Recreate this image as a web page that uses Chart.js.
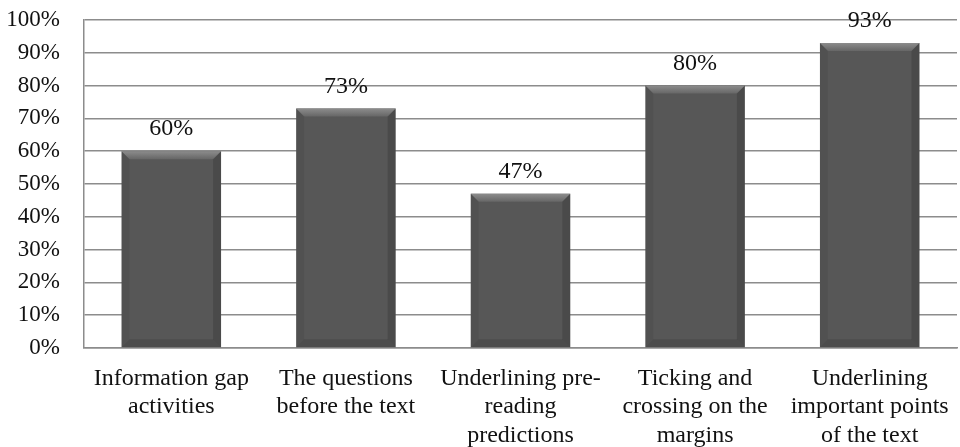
<!DOCTYPE html>
<html>
<head>
<meta charset="utf-8">
<script src="https://cdn.jsdelivr.net/npm/chart.js@4.4.1/dist/chart.umd.min.js"></script>
<style>
  html, body { margin: 0; padding: 0; background: #fff; }
  #wrap { width: 960px; height: 447px; }
</style>
</head>
<body>
<div id="wrap"><canvas id="bars"></canvas></div>
<script>
var categories = [
  ["Information gap", "activities"],
  ["The questions", "before the text"],
  ["Underlining pre-", "reading", "predictions"],
  ["Ticking and", "crossing on the", "margins"],
  ["Underlining", "important points", "of the text"]
];
var percents = [60, 73, 47, 80, 93];
var yTicks = [0, 10, 20, 30, 40, 50, 60, 70, 80, 90, 100];

var serif = "'Liberation Serif', 'DejaVu Serif', serif";

// value labels above each bar
var valueLabels = {
  id: 'valueLabels',
  afterDatasetsDraw: function(chart) {
    var ctx = chart.ctx;
    var meta = chart.getDatasetMeta(0);
    ctx.save();
    ctx.font = "24px " + serif;
    ctx.fillStyle = "#111";
    ctx.textAlign = "center";
    ctx.textBaseline = "middle";
    meta.data.forEach(function(bar, i) {
      ctx.fillText(percents[i] + "%", bar.x, bar.y - 22);
    });
    ctx.restore();
  }
};

// bevel shading on each bar
var bevel = {
  id: 'bevel',
  afterDatasetDraw: function(chart) {
    var ctx = chart.ctx;
    var meta = chart.getDatasetMeta(0);
    var b = 8;
    ctx.save();
    meta.data.forEach(function(bar) {
      var l = bar.x - bar.width / 2, r = bar.x + bar.width / 2;
      var t = bar.y, btm = bar.base;
      // top
      var g = ctx.createLinearGradient(0, t, 0, t + b);
      g.addColorStop(0, "#8c8c8c");
      g.addColorStop(1, "#666");
      ctx.fillStyle = g;
      ctx.beginPath();
      ctx.moveTo(l, t); ctx.lineTo(r, t); ctx.lineTo(r - b, t + b); ctx.lineTo(l + b, t + b);
      ctx.closePath(); ctx.fill();
      // left
      ctx.fillStyle = "rgba(0,0,0,0.06)";
      ctx.beginPath();
      ctx.moveTo(l, t); ctx.lineTo(l + b, t + b); ctx.lineTo(l + b, btm - b); ctx.lineTo(l, btm);
      ctx.closePath(); ctx.fill();
      // right
      ctx.fillStyle = "rgba(0,0,0,0.14)";
      ctx.beginPath();
      ctx.moveTo(r, t); ctx.lineTo(r - b, t + b); ctx.lineTo(r - b, btm - b); ctx.lineTo(r, btm);
      ctx.closePath(); ctx.fill();
      // bottom
      ctx.fillStyle = "rgba(0,0,0,0.12)";
      ctx.beginPath();
      ctx.moveTo(l, btm); ctx.lineTo(l + b, btm - b); ctx.lineTo(r - b, btm - b); ctx.lineTo(r, btm);
      ctx.closePath(); ctx.fill();
    });
    ctx.restore();
  }
};

new Chart(document.getElementById("bars"), {
  type: 'bar',
  data: {
    labels: categories,
    datasets: [{
      data: percents,
      backgroundColor: "#575757",
      borderWidth: 0,
      categoryPercentage: 1.0,
      barPercentage: 0.57
    }]
  },
  options: {
    responsive: true,
    maintainAspectRatio: false,
    animation: false,
    layout: { padding: { top: 20, right: 3, left: 0, bottom: 0 } },
    plugins: { legend: { display: false }, tooltip: { enabled: false } },
    scales: {
      x: {
        grid: { display: false, drawTicks: false },
        border: { color: "#8c8c8c", width: 1.5 },
        ticks: {
          color: "#111",
          font: { family: serif, size: 24 },
          padding: 16,
          maxRotation: 0,
          autoSkip: false
        },
        afterFit: function(scale) {
          scale.height = 99;
          scale.paddingLeft = 0;
          scale.paddingRight = 0;
        }
      },
      y: {
        min: 0,
        max: 100,
        afterBuildTicks: function(scale) {
          scale.ticks = yTicks.map(function(v) { return { value: v }; });
        },
        grid: { color: "#8c8c8c", lineWidth: 1.5, drawTicks: false },
        border: { color: "#8c8c8c", width: 1.5 },
        ticks: {
          color: "#111",
          font: { family: serif, size: 23 },
          padding: 24,
          autoSkip: false,
          callback: function(v) { return v + "%"; }
        },
        afterFit: function(scale) {
          scale.width = 84;
          scale.paddingTop = 0;
          scale.paddingBottom = 0;
        }
      }
    }
  },
  plugins: [bevel, valueLabels]
});
</script>
</body>
</html>
